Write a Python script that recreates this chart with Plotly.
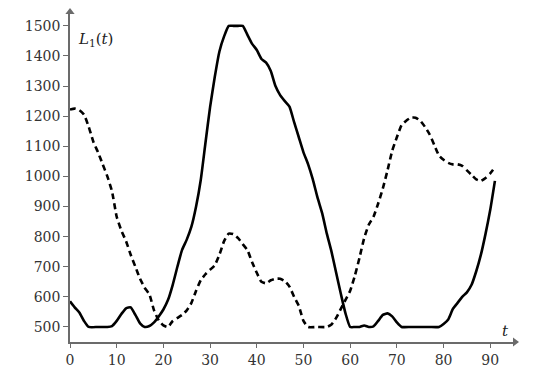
import plotly.graph_objects as go

# Solid series L1(t)
t_solid = [0, 1, 2, 3, 4, 6, 8, 9, 10, 11, 12, 13, 14, 15, 16, 17, 18, 19, 20, 21,
           22, 23, 24, 25, 26, 27, 28, 29, 30, 31, 32, 33, 34, 35, 36, 37, 38, 39, 40,
           41, 42, 43, 44, 45, 46, 47, 48, 49, 50, 51, 52, 53, 54, 55, 56, 57, 58, 59,
           60, 61, 62, 63, 64, 65, 66, 67, 68, 69, 70, 71, 73, 75, 77, 79, 80, 81, 82,
           83, 84, 85, 86, 87, 88, 89, 90, 91]
v_solid = [585, 565, 548, 520, 500, 500, 500, 503, 520, 543, 562, 565, 540, 512, 500, 503,
           515, 535, 558, 590, 640, 700, 756, 790, 833, 900, 988, 1110, 1230, 1330, 1415,
           1465, 1500, 1500, 1500, 1500, 1470, 1440, 1420, 1390, 1378, 1350, 1300, 1270,
           1250, 1232, 1180, 1130, 1080, 1040, 990, 930, 878, 810, 750, 680, 610, 545,
           500, 500, 500, 505, 500, 502, 520, 540, 545, 535, 515, 500, 500, 500, 500, 500,
           510, 525, 560, 580, 600, 615, 640, 685, 740, 810, 889, 985]

# Dashed series
t_dash = [0, 1, 2, 3, 4, 5, 6, 7, 8, 9, 10, 11, 12, 13, 14, 15, 16, 17, 18, 19, 20, 21,
          22, 23, 24, 25, 26, 27, 28, 29, 30, 31, 32, 33, 34, 35, 36, 37, 38, 39, 40, 41,
          42, 43, 44, 45, 46, 47, 48, 49, 50, 51, 53, 55, 56, 57, 58, 59, 60, 61, 62, 63,
          64, 65, 66, 67, 68, 69, 70, 71, 72, 73, 74, 75, 76, 77, 78, 79, 80, 81, 82, 83,
          84, 85, 86, 87, 88, 89, 90, 91]
v_dash = [1222, 1225, 1220, 1205, 1165, 1115, 1080, 1040, 1000, 950, 866, 820, 785, 740,
          700, 660, 630, 608, 555, 522, 505, 500, 520, 530, 540, 555, 580, 620, 655, 675,
          690, 705, 740, 785, 810, 808, 795, 775, 755, 715, 680, 650, 645, 655, 660, 660,
          652, 634, 600, 570, 520, 500, 500, 500, 508, 530, 560, 590, 620, 670, 730, 795,
          840, 866, 910, 960, 1020, 1085, 1130, 1170, 1185, 1195, 1195, 1185, 1165, 1140,
          1105, 1070, 1055, 1045, 1040, 1040, 1035, 1020, 1005, 990, 985, 995, 1010, 1030]

x_ticks = [0, 10, 20, 30, 40, 50, 60, 70, 80, 90]
y_ticks = [500, 600, 700, 800, 900, 1000, 1100, 1200, 1300, 1400, 1500]

X_RANGE = [0, 95.3]
Y_RANGE = [450, 1546]

AX = "#6b6b6b"
FONT = "DejaVu Serif"

fig = go.Figure()
fig.add_trace(go.Scatter(x=t_solid, y=v_solid, mode="lines",
                         line=dict(color="black", width=2.6, shape="spline", smoothing=0.5)))
fig.add_trace(go.Scatter(x=t_dash, y=v_dash, mode="lines",
                         line=dict(color="black", width=2.6, dash="6px,4px",
                                   shape="spline", smoothing=0.5)))

# axis arrowheads at the ends of the axis ranges
fig.add_trace(go.Scatter(x=[X_RANGE[1]], y=[Y_RANGE[0]], mode="markers", cliponaxis=False,
                         hoverinfo="skip",
                         marker=dict(symbol="triangle-right", size=8, color=AX)))
fig.add_trace(go.Scatter(x=[X_RANGE[0]], y=[Y_RANGE[1]], mode="markers", cliponaxis=False,
                         hoverinfo="skip",
                         marker=dict(symbol="triangle-up", size=8, color=AX)))

# page body has an 8px margin, so the figure is sized/offset to compensate
fig.update_layout(
    width=548, height=363,
    margin=dict(l=62, r=41, t=4, b=29),
    paper_bgcolor="white", plot_bgcolor="white",
    showlegend=False,
    font=dict(family=FONT, size=14, color="#222"),
    xaxis=dict(range=X_RANGE, tickvals=x_ticks, showgrid=False, zeroline=False,
               automargin=False,
               showline=True, linecolor=AX, linewidth=1.5, ticks="outside",
               ticklen=4, tickcolor=AX, tickwidth=1.2,
               tickfont=dict(family=FONT, size=14, color="#333")),
    yaxis=dict(range=Y_RANGE, tickvals=y_ticks, showgrid=False, zeroline=False,
               automargin=False,
               showline=True, linecolor=AX, linewidth=1.5, ticks="outside",
               ticklen=5, tickcolor=AX, tickwidth=1.2,
               tickfont=dict(family=FONT, size=14, color="#333")),
)

fig.add_annotation(x=1.3, y=1455, xref="x", yref="y", text="<i>L</i><sub>1</sub>(<i>t</i>)",
                   showarrow=False, xanchor="left", yanchor="middle",
                   font=dict(family=FONT, size=15, color="#222"))
fig.add_annotation(x=93.3, y=485, xref="x", yref="y", text="<i>t</i>",
                   showarrow=False, xanchor="center", yanchor="middle",
                   font=dict(family=FONT, size=15, color="#222"))

fig.write_html("out.html")
